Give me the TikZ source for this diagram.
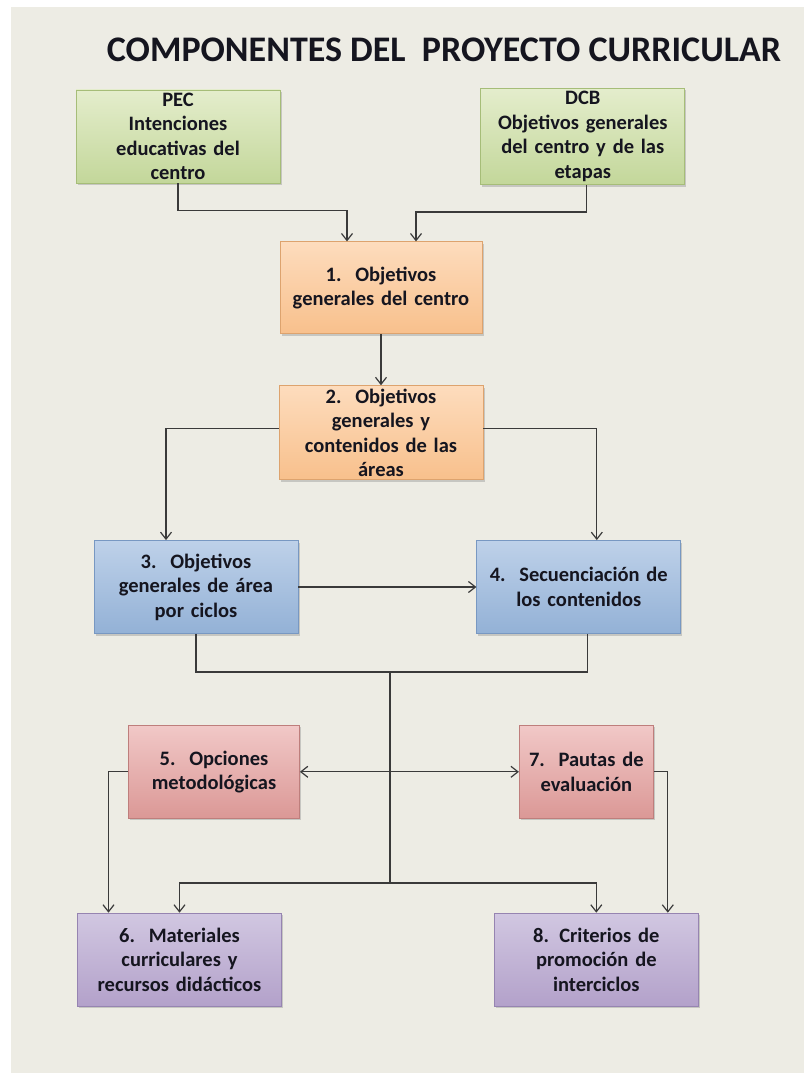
\documentclass[tikz,border=0pt]{standalone}
\usepackage{fontspec}
\setmainfont{Carlito}
\usepackage{tikz}
\usetikzlibrary{arrows.meta,positioning,shadows}
\definecolor{paper}{HTML}{EDECE4}
\definecolor{ink}{HTML}{3A3A3A}
\definecolor{greentop}{HTML}{E4EDCC}
\definecolor{greenbot}{HTML}{C3D79A}
\definecolor{greenline}{HTML}{A6BD78}
\definecolor{orangetop}{HTML}{FDDCBD}
\definecolor{orangebot}{HTML}{F8C08C}
\definecolor{orangeline}{HTML}{DDA36E}
\definecolor{bluetop}{HTML}{BED1E9}
\definecolor{bluebot}{HTML}{93B1D6}
\definecolor{blueline}{HTML}{7898C2}
\definecolor{pinktop}{HTML}{F1C8C7}
\definecolor{pinkbot}{HTML}{DB9896}
\definecolor{pinkline}{HTML}{BE7E7C}
\definecolor{violettop}{HTML}{D1C7E1}
\definecolor{violetbot}{HTML}{B3A1CA}
\definecolor{violetline}{HTML}{9684B1}
\definecolor{textink}{HTML}{15151F}

\begin{document}
\begin{tikzpicture}[
  x=1pt, y=1pt,
  node distance=58pt and 200pt,
  flow/.style={-{Straight Barb[length=7pt,width=11pt]}, line width=1.2pt, draw=ink},
  link/.style={line width=1.2pt, draw=ink},
  card/.style={draw, line width=0.8pt, align=center, minimum height=93pt,
    minimum width=204pt, text width=192pt, inner sep=3pt, text=textink,
    font=\bfseries\fontsize{20.5}{24.5}\selectfont,
    drop shadow={opacity=0.35, shadow xshift=1.5pt, shadow yshift=-2pt}},
  intent/.style={card, draw=greenline, top color=greentop, bottom color=greenbot},
  goal/.style={card, draw=orangeline, top color=orangetop, bottom color=orangebot},
  area/.style={card, draw=blueline, top color=bluetop, bottom color=bluebot},
  method/.style={card, draw=pinkline, top color=pinktop, bottom color=pinkbot},
  resource/.style={card, draw=violetline, top color=violettop, bottom color=violetbot},
  title/.style={font=\bfseries\fontsize{36}{40}\selectfont, text=textink, inner sep=0pt}
]
\useasboundingbox (0,0) rectangle (804,1073);
\fill[white] (0,0) rectangle (804,1073);
\fill[paper] (11,0) rectangle (804,1066);
\node[title, anchor=base] (head) at (444,1011) {COMPONENTES DEL\ \ PROYECTO CURRICULAR};
\node[intent] (pec) at (178,936.5) {PEC\\Intenciones\\educativas del\\centro};
\node[intent, right=of pec] (dcb) {DCB\\Objetivos generales\\del centro y de las\\etapas};
\node[goal, below=of pec, xshift=203pt, minimum width=202pt, minimum height=92pt] (obj1) {1.~~Objetivos\\generales del centro};
\node[goal, below=51pt of obj1] (obj2) {2.~~Objetivos\\generales y\\contenidos de las\\áreas};
\node[area, below=60pt of obj2, xshift=-185pt] (obj3) {3.~~Objetivos\\generales de área\\por ciclos};
\node[area, right=178pt of obj3] (obj4) {4.~~Secuenciación de\\los contenidos};
\node[method, below=91pt of obj3, xshift=18pt, minimum width=171pt, text width=160pt] (opc5) {5.~~Opciones\\metodológicas};
\node[method, right=219pt of opc5, minimum width=134pt, text width=126pt] (pau7) {7.~~Pautas de\\evaluación};
\node[resource, below=94pt of opc5, xshift=-34.5pt] (mat6) {6.~~Materiales\\curriculares y\\recursos didácticos};
\node[resource, right=212pt of mat6] (cri8) {8. Criterios de\\promoción de\\interciclos};
\coordinate (hub) at (390,401);
\coordinate (foot) at (390,190);
\draw[flow] (pec.south) -- ++(0,-27) -| ([xshift=-34pt]obj1.north);
\draw[flow] ([xshift=4pt]dcb.south) -- ++(0,-27) -| ([xshift=35pt]obj1.north);
\draw[flow] (obj1.south) -- (obj2.north);
\draw[flow] ([yshift=4.5pt]obj2.west) -| ([xshift=-30pt]obj3.north);
\draw[flow] ([yshift=4.5pt]obj2.east) -| ([xshift=18pt]obj4.north);
\draw[flow] (obj3.east) -- (obj4.west);
\draw[link] (obj3.south) |- (hub);
\draw[link] ([xshift=9pt]obj4.south) |- (hub);
\draw[link] (hub) -- (foot);
\draw[flow] (opc5.east -| hub) -- (opc5.east);
\draw[flow] (pau7.west -| hub) -- (pau7.west);
\draw[flow] (opc5.west) -| ([xshift=-71pt]mat6.north);
\draw[flow] (pau7.east) -| ([xshift=71.5pt]cri8.north);
\draw[flow] (foot) -| (mat6.north);
\draw[flow] (foot) -| (cri8.north);
\end{tikzpicture}
\end{document}
